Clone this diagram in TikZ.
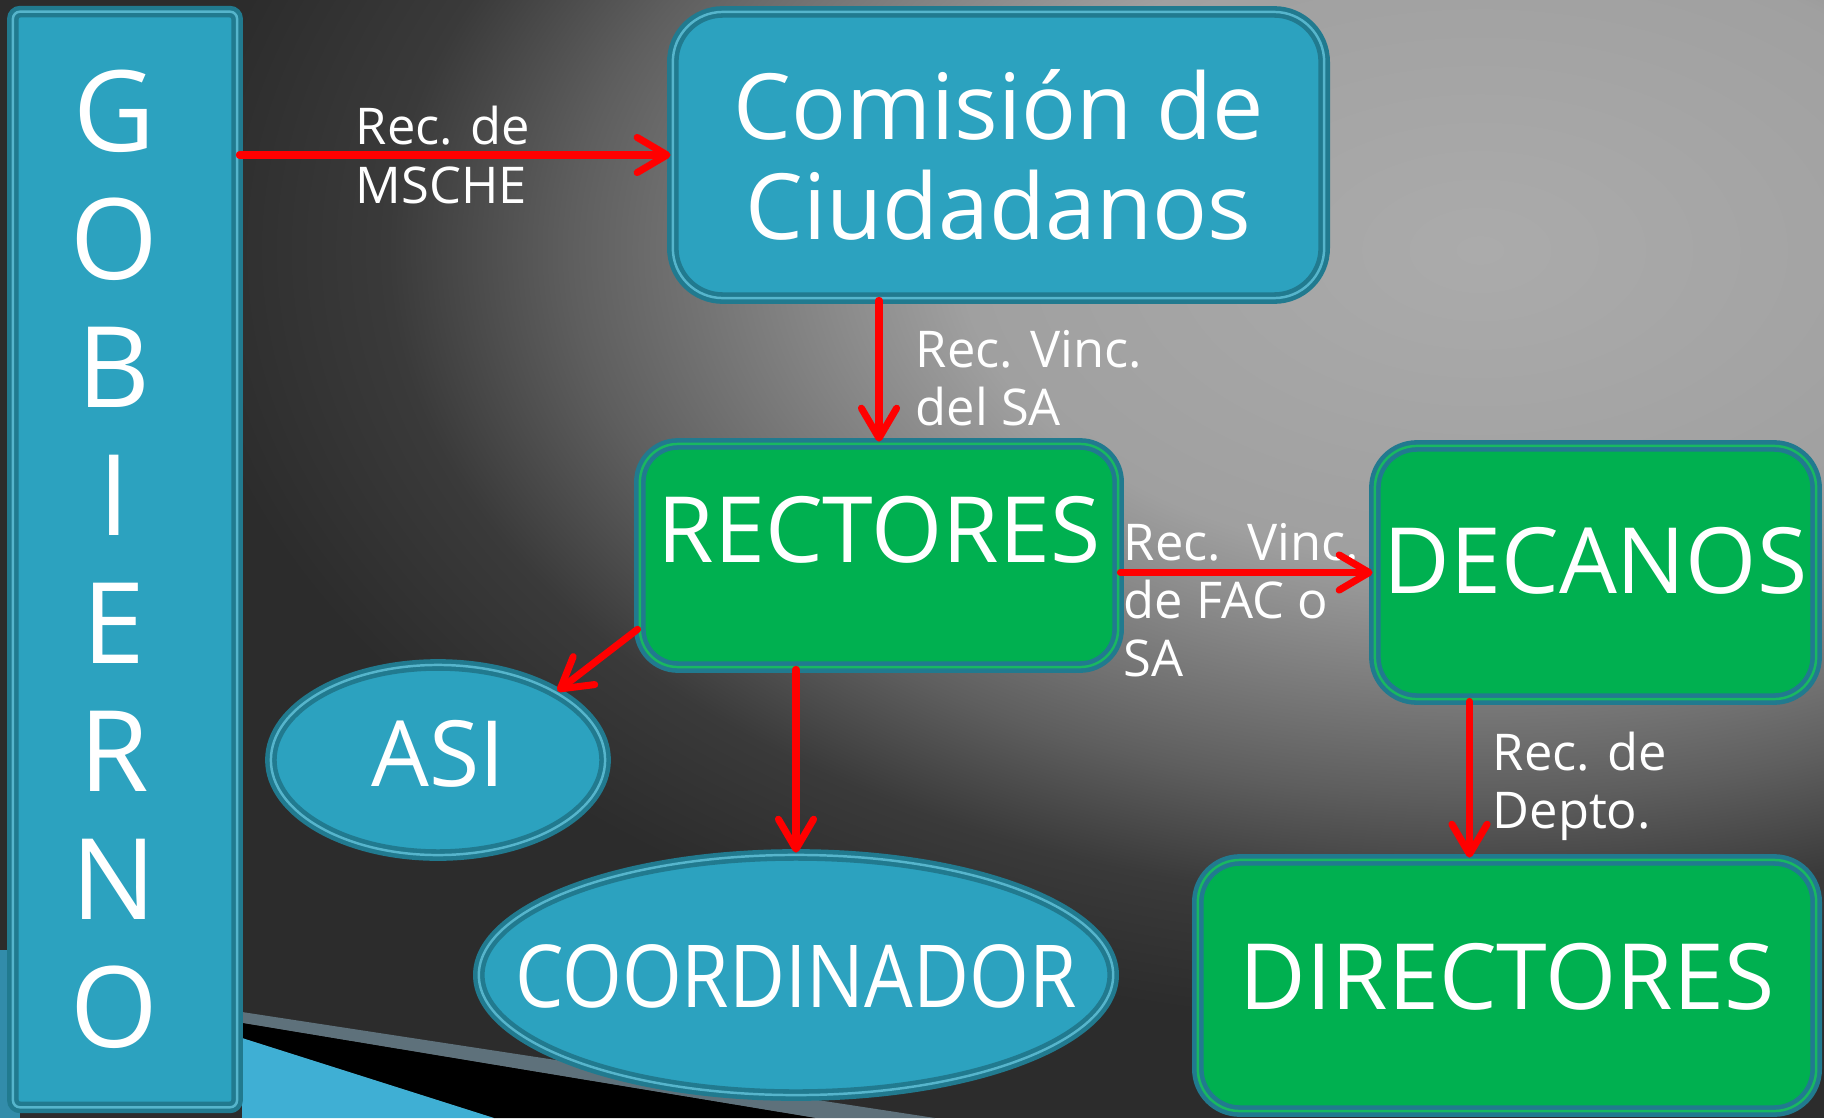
\documentclass[tikz,border=0pt]{standalone}
\usepackage{fontspec}
\usepackage{graphicx}
\setmainfont{Open Sans}
\usetikzlibrary{shapes.geometric,arrows.meta,positioning,calc}

\definecolor{panelblue}{HTML}{2CA2BF}
\definecolor{panelgreen}{HTML}{00B050}
\definecolor{rim}{HTML}{217A8F}
\definecolor{arrowred}{HTML}{FF0000}
\definecolor{bgdark}{HTML}{2C2C2C}
\definecolor{bgmid}{HTML}{5E5E5E}
\definecolor{bgdim}{HTML}{3A3A3A}
\definecolor{bgsoft}{HTML}{A0A0A0}
\definecolor{bglight}{HTML}{ABABAB}
\definecolor{bandgray}{HTML}{5E717B}
\definecolor{wedgeblue}{HTML}{3FAFD4}

\pgfdeclareradialshading{bgglow}{\pgfpoint{0bp}{0bp}}{%
  color(0bp)=(bglight); color(10bp)=(bgsoft); color(17.5bp)=(bgmid);
  color(21bp)=(bgdim); color(25bp)=(bgdark); color(50bp)=(bgdark)}

\newcommand{\bigtxt}{\fontsize{26}{28.2}\selectfont}
\newcommand{\govtxt}{\fontsize{32}{36.4}\selectfont}
\newcommand{\smalltxt}{\fontsize{14.4}{16.5}\selectfont}

\begin{document}
\begin{tikzpicture}[
  x=0.01cm, y=-0.01cm,
  panel/.style={draw=rim, line width=1.3pt, double distance=0.7pt, text=white, font=\bigtxt, inner sep=0pt},
  bluepanel/.style={panel, fill=panelblue, double=panelblue!80!white},
  greenpanel/.style={panel, fill=panelgreen, double=panelgreen!90!white},
  lift/.style={text height=0.65cm, text depth=#1},
  lbl/.style={text=white, font=\smalltxt, align=left, inner sep=0pt, anchor=west},
  arr/.style={-{Straight Barb[length=8.5pt,width=10pt,round]}, draw=arrowred, line width=2pt, line cap=round}
]
  \useasboundingbox (0,0) rectangle (1824,1118);

  % background
  \begin{scope}
    \clip (0,0) rectangle (1824,1118);
    \fill[bgdark] (0,0) rectangle (1824,1118);
    \shade[shading=bgglow] (1480,250) ellipse (1300 and 780);
    \fill[wedgeblue!80!black] (0,950) rectangle (20,1118);
    \fill[bandgray] (242,1012) -- (935,1118) -- (815,1118) -- (242,1023) -- cycle;
    \fill[black] (242,1023) -- (815,1118) -- (494,1118) -- (242,1038) -- cycle;
    \fill[wedgeblue] (242,1038) -- (494,1118) -- (242,1118) -- cycle;
  \end{scope}

  % boxes
  \node[bluepanel, rounded corners=2pt, minimum width=2.24cm, minimum height=10.95cm,
        label={[name=goblbl, text=white, font=\govtxt, align=center, xshift=-0.11cm]center:G\\O\\B\\I\\E\\R\\N\\O}]
        (gob) at (125,559.5) {};
  \node[bluepanel, rounded corners=0.5cm, minimum width=6.51cm, minimum height=2.86cm,
        align=center] (com) at (998.5,155) {Comisión de\\Ciudadanos};
  \node[greenpanel, rounded corners=0.38cm, minimum width=4.78cm, minimum height=2.23cm,
        lift=0.52cm] (rec) at (879,555.5) {RECTORES};
  \node[greenpanel, rounded corners=0.42cm, minimum width=4.41cm, minimum height=2.53cm,
        lift=0.23cm] (dec) at (1595.5,572.5) {DECANOS};
  \node[greenpanel, rounded corners=0.42cm, minimum width=6.18cm, minimum height=2.51cm,
        lift=0.17cm] (dir) at (1507,985.5) {DIRECTORES};
  \node[bluepanel, ellipse, minimum width=3.34cm, minimum height=1.90cm,
        lift=0.12cm] (asi) at (438,760) {ASI};
  \node[bluepanel, ellipse, minimum width=6.34cm, minimum height=2.40cm,
        lift=0cm] (coord) at (796,975) {\makebox[0pt]{\scalebox{0.84}[0.95]{COORDINADOR}}};

  % labels
  \node[lbl] (lmsche) at (355,155) {Rec. de\\MSCHE};
  \node[lbl] (lvincsa) at (915,378) {Rec. Vinc.\\del SA};
  \node[lbl] (lvincfac) at (1123,600) {Rec.\ \ Vinc.\\de FAC o\\SA};
  \node[lbl] (ldepto) at (1492,786) {Rec. de\\Depto.};

  % connectors
  \coordinate (dtop) at ($(dec.south)+(-126,0)$);
  \draw[arr] (gob.east |- com.west) -- (com.west);
  \draw[arr] (rec.north |- com.south) -- (rec.north);
  \draw[arr] (rec.east |- dec.west) -- (dec.west);
  \draw[arr] (rec.197) -- (asi.30);
  \draw[arr] (coord.north |- rec.south) -- (coord.north);
  \draw[arr] (dtop) -- (dtop |- dir.north);
\end{tikzpicture}
\end{document}
